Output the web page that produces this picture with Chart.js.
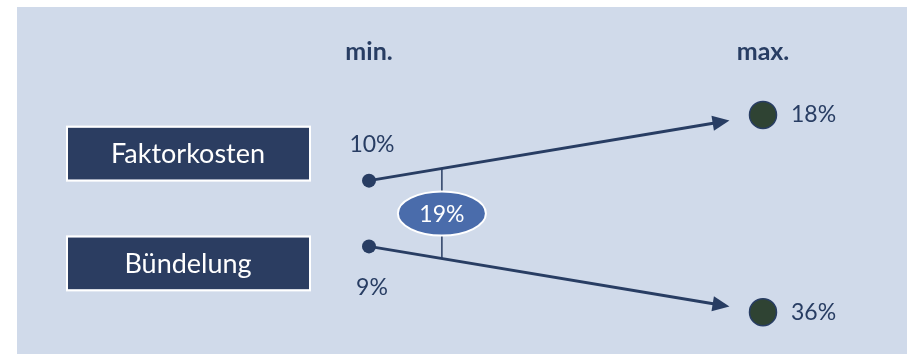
<!DOCTYPE html>
<html>
<head>
<meta charset="utf-8">
<script src="https://cdn.jsdelivr.net/npm/chart.js@4.4.0/dist/chart.umd.min.js"></script>
<style>
  html, body { margin: 0; padding: 0; background: #fff; }
  canvas { display: block; }
</style>
</head>
<body>
<canvas id="rangeChart" width="909" height="354"></canvas>
<script>
const columns = ['min.', 'max.'];
const categories = ['Faktorkosten', 'Bündelung'];
const minValues = [10, 9];
const maxValues = [18, 36];
const combinedValue = 19;

const navy = '#283d63';
const fontFamily = 'Lato, "Open Sans", sans-serif';

// first row sits above the middle, second below; max points spread wider
function rowSide(i) { return i === 0 ? 1 : -1; }

const datasets = categories.map((cat, i) => ({
    label: cat,
    data: [
        { x: columns[0], y: rowSide(i) * 1, value: minValues[i] },
        { x: columns[1], y: rowSide(i) * 3, value: maxValues[i] }
    ],
    showLine: false,
    pointRadius: [7, 13.5],
    pointHoverRadius: [7, 13.5],
    pointBackgroundColor: [navy, '#2f4333'],
    pointBorderColor: navy,
    pointBorderWidth: [0, 1.5]
}));

const decorPlugin = {
    id: 'decor',
    beforeDraw(chart) {
        const ctx = chart.ctx;
        ctx.save();
        ctx.fillStyle = '#d0daea';
        ctx.fillRect(17, 7, 890, 347);
        ctx.restore();
    },
    beforeDatasetsDraw(chart) {
        const ctx = chart.ctx;
        ctx.save();
        // arrows from min to max
        categories.forEach((cat, i) => {
            const pts = chart.getDatasetMeta(i).data;
            const a = pts[0], b = pts[1];
            const ang = Math.atan2(b.y - a.y, b.x - a.x);
            const len = Math.hypot(b.x - a.x, b.y - a.y) - 34;
            const tipX = a.x + Math.cos(ang) * len;
            const tipY = a.y + Math.sin(ang) * len;
            const headLen = 17, headW = 7.5;
            const bx = tipX - Math.cos(ang) * headLen;
            const by = tipY - Math.sin(ang) * headLen;
            ctx.strokeStyle = navy;
            ctx.lineWidth = 3;
            ctx.beginPath();
            ctx.moveTo(a.x, a.y);
            ctx.lineTo(bx + Math.cos(ang) * 2, by + Math.sin(ang) * 2);
            ctx.stroke();
            ctx.fillStyle = navy;
            ctx.beginPath();
            ctx.moveTo(tipX, tipY);
            ctx.lineTo(bx - Math.sin(ang) * headW, by + Math.cos(ang) * headW);
            ctx.lineTo(bx + Math.sin(ang) * headW, by - Math.cos(ang) * headW);
            ctx.closePath();
            ctx.fill();
        });

        // connector with combined value
        const top = chart.getDatasetMeta(0).data;
        const bot = chart.getDatasetMeta(1).data;
        const t = 0.185;
        const cx = top[0].x + (top[1].x - top[0].x) * t;
        const y1 = top[0].y + (top[1].y - top[0].y) * t;
        const y2 = bot[0].y + (bot[1].y - bot[0].y) * t;
        ctx.strokeStyle = navy;
        ctx.lineWidth = 1.5;
        ctx.beginPath();
        ctx.moveTo(cx, y1);
        ctx.lineTo(cx, y2);
        ctx.stroke();
        const cy = (y1 + y2) / 2;
        ctx.beginPath();
        ctx.ellipse(cx, cy, 44, 22, 0, 0, Math.PI * 2);
        ctx.fillStyle = '#4a6cab';
        ctx.fill();
        ctx.strokeStyle = '#ffffff';
        ctx.lineWidth = 2;
        ctx.stroke();
        ctx.fillStyle = '#ffffff';
        ctx.font = '23px ' + fontFamily;
        ctx.textAlign = 'center';
        ctx.textBaseline = 'middle';
        ctx.fillText(combinedValue + '%', cx, cy + 1);
        ctx.restore();
    },
    afterDatasetsDraw(chart) {
        const ctx = chart.ctx;
        ctx.save();
        ctx.textBaseline = 'middle';
        categories.forEach((cat, i) => {
            const pts = chart.getDatasetMeta(i).data;
            const a = pts[0], b = pts[1];

            // category box on the left
            const boxY = i === 0 ? a.y - 27 : a.y + 17;
            ctx.fillStyle = '#2b3d61';
            ctx.fillRect(68, boxY - 26, 241, 52);
            ctx.strokeStyle = '#ffffff';
            ctx.lineWidth = 2;
            ctx.strokeRect(67, boxY - 27, 243, 54);
            ctx.fillStyle = '#ffffff';
            ctx.font = '27px ' + fontFamily;
            ctx.textAlign = 'center';
            ctx.fillText(cat, 188, boxY + 1);

            // value labels
            ctx.fillStyle = navy;
            ctx.font = '23px ' + fontFamily;
            const minY = i === 0 ? a.y - 36 : a.y + 41;
            ctx.fillText(minValues[i] + '%', a.x + 3, minY);
            ctx.textAlign = 'left';
            ctx.fillText(maxValues[i] + '%', b.x + 28, b.y);
        });
        ctx.restore();
    }
};

new Chart(document.getElementById('rangeChart'), {
    type: 'line',
    data: { labels: columns, datasets: datasets },
    options: {
        responsive: false,
        animation: false,
        events: [],
        layout: { autoPadding: false, padding: { left: 369, right: 146, top: 22, bottom: 9 } },
        plugins: { legend: { display: false }, tooltip: { enabled: false } },
        scales: {
            x: {
                type: 'category',
                position: 'top',
                offset: false,
                grid: { display: false, drawTicks: false },
                border: { display: false },
                ticks: { color: navy, padding: 15, font: { family: fontFamily, size: 25, weight: 'bold' } }
            },
            y: { type: 'linear', min: -4, max: 4, display: false }
        }
    },
    plugins: [decorPlugin]
});
</script>
</body>
</html>
